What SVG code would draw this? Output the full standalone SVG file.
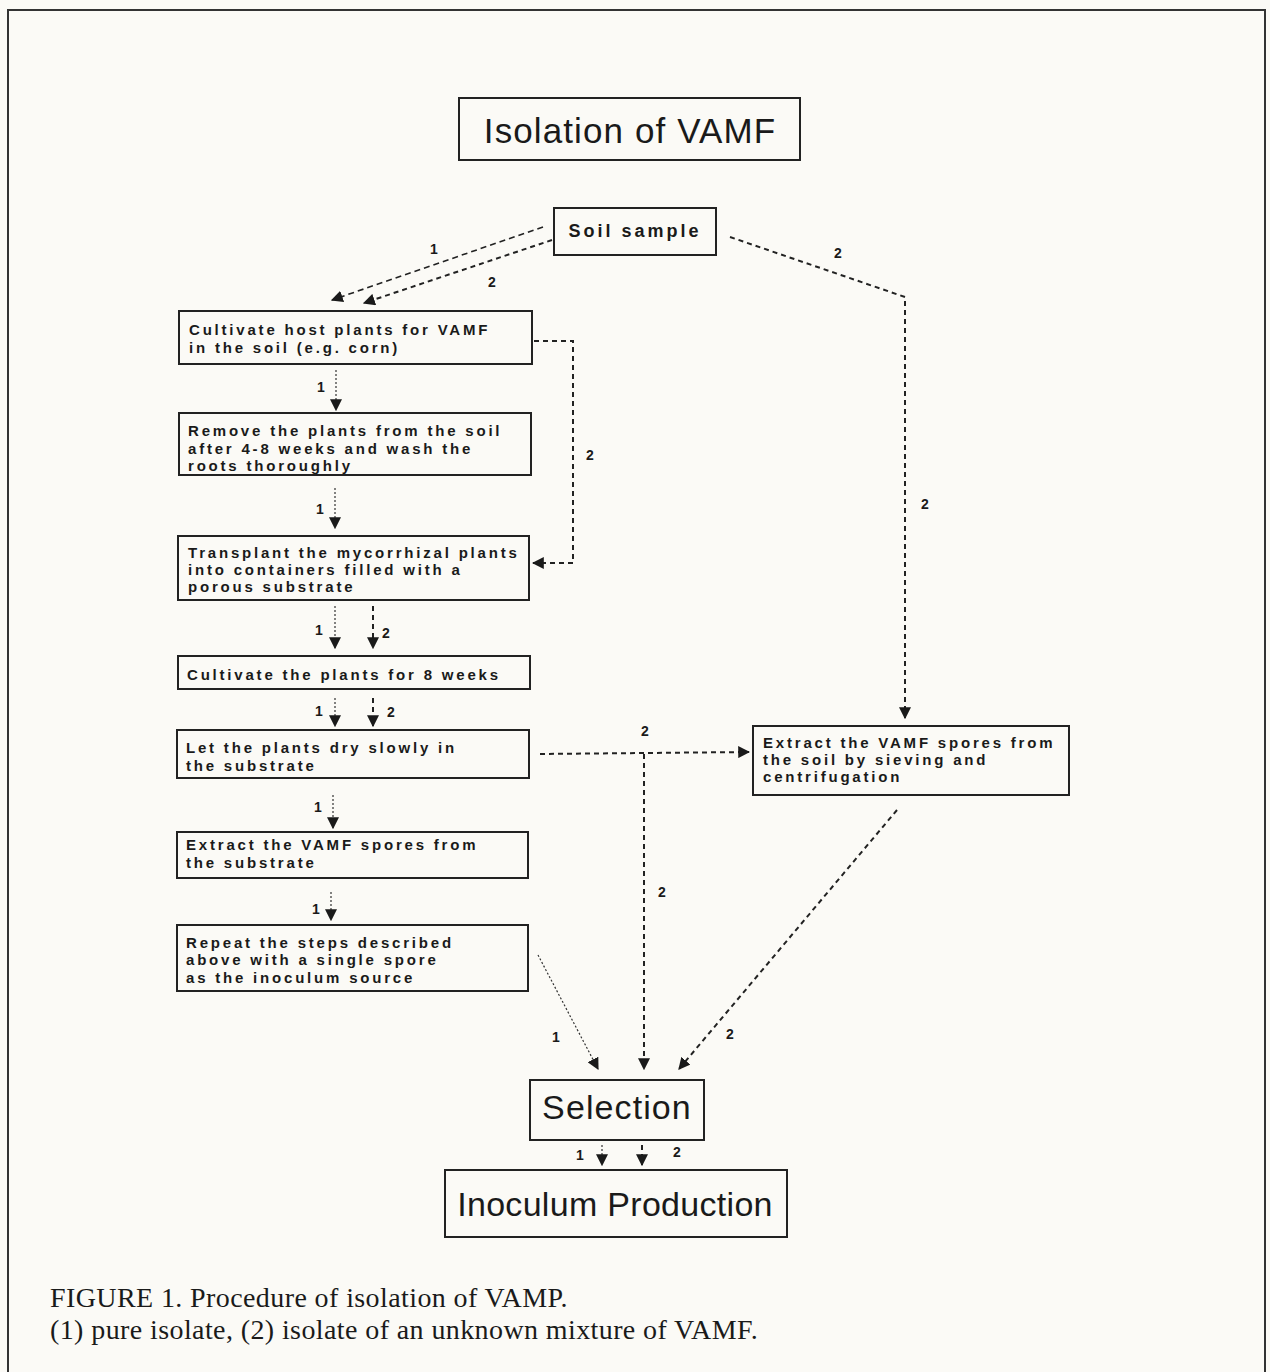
<svg xmlns="http://www.w3.org/2000/svg" width="1270" height="1372" viewBox="0 0 1270 1372">
<style>
.bg{fill:#fbfaf6}
.box{fill:none;stroke:#222;stroke-width:2}
.t{font-family:"Liberation Sans",Arial,sans-serif;font-weight:bold;font-size:15px;letter-spacing:2.8px;fill:#1a1a1a}
.big{font-family:"Liberation Sans",Arial,sans-serif;font-size:34px;fill:#1a1a1a;letter-spacing:1.1px}
.lbl{font-family:"Liberation Sans",Arial,sans-serif;font-weight:bold;font-size:14px;fill:#1a1a1a}
.cap{font-family:"Liberation Serif","Times New Roman",serif;font-size:28px;letter-spacing:0.4px;fill:#1a1a1a}
.p1{fill:none;stroke:#333;stroke-width:1.2;stroke-dasharray:2 2}
.p2{fill:none;stroke:#222;stroke-width:2;stroke-dasharray:5 4}
.p1d{fill:none;stroke:#222;stroke-width:1.6;stroke-dasharray:6 4}
</style>
<defs>
<marker id="ah" viewBox="0 0 10 10" refX="9" refY="5" markerWidth="12" markerHeight="12" markerUnits="userSpaceOnUse" orient="auto">
<path d="M0,0 L10,5 L0,10 Z" fill="#1a1a1a"/>
</marker>
</defs>
<rect class="bg" x="0" y="0" width="1270" height="1372"/>
<rect x="8" y="10" width="1257" height="1372" fill="none" stroke="#333" stroke-width="2"/>

<g id="title">
<rect class="box" x="459" y="98" width="341" height="62"/>
<text class="big" x="630" y="143" text-anchor="middle" style="font-size:35px">Isolation of VAMF</text>
</g>
<g id="soil">
<rect class="box" x="554" y="208" width="162" height="47"/>
<text class="t" x="635" y="237" text-anchor="middle" style="font-size:18px;letter-spacing:3px">Soil sample</text>
</g>
<g id="cultivate">
<rect class="box" x="179" y="311" width="353" height="53"/>
<text class="t" x="189" y="335">Cultivate host plants for VAMF</text>
<text class="t" x="189" y="353">in the soil (e.g. corn)</text>
</g>
<g id="remove">
<rect class="box" x="179" y="413" width="352" height="62"/>
<text class="t" x="188" y="436">Remove the plants from the soil</text>
<text class="t" x="188" y="454">after 4-8 weeks and wash the</text>
<text class="t" x="188" y="471">roots thoroughly</text>
</g>
<g id="transplant">
<rect class="box" x="178" y="536" width="351" height="64"/>
<text class="t" x="188" y="558">Transplant the mycorrhizal plants</text>
<text class="t" x="188" y="575">into containers filled with a</text>
<text class="t" x="188" y="592">porous substrate</text>
</g>
<g id="cultivate8">
<rect class="box" x="178" y="656" width="352" height="33"/>
<text class="t" x="187" y="680">Cultivate the plants for 8 weeks</text>
</g>
<g id="dry">
<rect class="box" x="177" y="730" width="352" height="48"/>
<text class="t" x="186" y="753">Let the plants dry slowly in</text>
<text class="t" x="186" y="771">the substrate</text>
</g>
<g id="extract1">
<rect class="box" x="177" y="832" width="351" height="46"/>
<text class="t" x="186" y="850">Extract the VAMF spores from</text>
<text class="t" x="186" y="868">the substrate</text>
</g>
<g id="repeat">
<rect class="box" x="177" y="925" width="351" height="66"/>
<text class="t" x="186" y="948">Repeat the steps described</text>
<text class="t" x="186" y="965">above with a single spore</text>
<text class="t" x="186" y="983">as the inoculum source</text>
</g>
<g id="extract2">
<rect class="box" x="753" y="726" width="316" height="69"/>
<text class="t" x="763" y="748">Extract the VAMF spores from</text>
<text class="t" x="763" y="765">the soil by sieving and</text>
<text class="t" x="763" y="782">centrifugation</text>
</g>
<g id="selection">
<rect class="box" x="530" y="1080" width="174" height="60"/>
<text class="big" x="617" y="1119" text-anchor="middle">Selection</text>
</g>
<g id="inoculum">
<rect class="box" x="445" y="1170" width="342" height="67"/>
<text class="big" x="615" y="1216" text-anchor="middle" style="letter-spacing:0.3px">Inoculum Production</text>
</g>

<g id="connectors">
<path class="p1d" d="M543,227 L332,300" marker-end="url(#ah)"/>
<path class="p2" d="M552,240 L364,303" marker-end="url(#ah)"/>
<path class="p2" d="M730,237 L905,297 L905,718" marker-end="url(#ah)"/>
<path class="p2" d="M534,341 L573,341 L573,563 L533,563" marker-end="url(#ah)"/>
<path class="p1" d="M336,370 L336,410" marker-end="url(#ah)"/>
<path class="p1" d="M335,488 L335,528" marker-end="url(#ah)"/>
<path class="p1" d="M335,606 L335,648" marker-end="url(#ah)"/>
<path class="p2" d="M373,606 L373,648" marker-end="url(#ah)"/>
<path class="p1" d="M335,698 L335,726" marker-end="url(#ah)"/>
<path class="p2" d="M373,698 L373,726" marker-end="url(#ah)"/>
<path class="p1" d="M333,795 L333,828" marker-end="url(#ah)"/>
<path class="p1" d="M331,892 L331,920" marker-end="url(#ah)"/>
<path class="p2" d="M540,754 L749,752" marker-end="url(#ah)"/>
<path class="p2" d="M644,754 L644,1069" marker-end="url(#ah)"/>
<path class="p1" d="M538,955 L598,1069" marker-end="url(#ah)"/>
<path class="p2" d="M897,810 L679,1069" marker-end="url(#ah)"/>
<path class="p1" d="M602,1145 L602,1165" marker-end="url(#ah)"/>
<path class="p2" d="M642,1145 L642,1165" marker-end="url(#ah)"/>
<text class="lbl" x="430" y="254">1</text>
<text class="lbl" x="488" y="287">2</text>
<text class="lbl" x="834" y="258">2</text>
<text class="lbl" x="921" y="509">2</text>
<text class="lbl" x="586" y="460">2</text>
<text class="lbl" x="317" y="392">1</text>
<text class="lbl" x="316" y="514">1</text>
<text class="lbl" x="315" y="635">1</text>
<text class="lbl" x="382" y="638">2</text>
<text class="lbl" x="315" y="716">1</text>
<text class="lbl" x="387" y="717">2</text>
<text class="lbl" x="314" y="812">1</text>
<text class="lbl" x="312" y="914">1</text>
<text class="lbl" x="641" y="736">2</text>
<text class="lbl" x="658" y="897">2</text>
<text class="lbl" x="552" y="1042">1</text>
<text class="lbl" x="726" y="1039">2</text>
<text class="lbl" x="576" y="1160">1</text>
<text class="lbl" x="673" y="1157">2</text>
</g>

<text class="cap" x="50" y="1307">FIGURE 1. Procedure of isolation of VAMP.</text>
<text class="cap" x="50" y="1339">(1) pure isolate, (2) isolate of an unknown mixture of VAMF.</text>
</svg>
